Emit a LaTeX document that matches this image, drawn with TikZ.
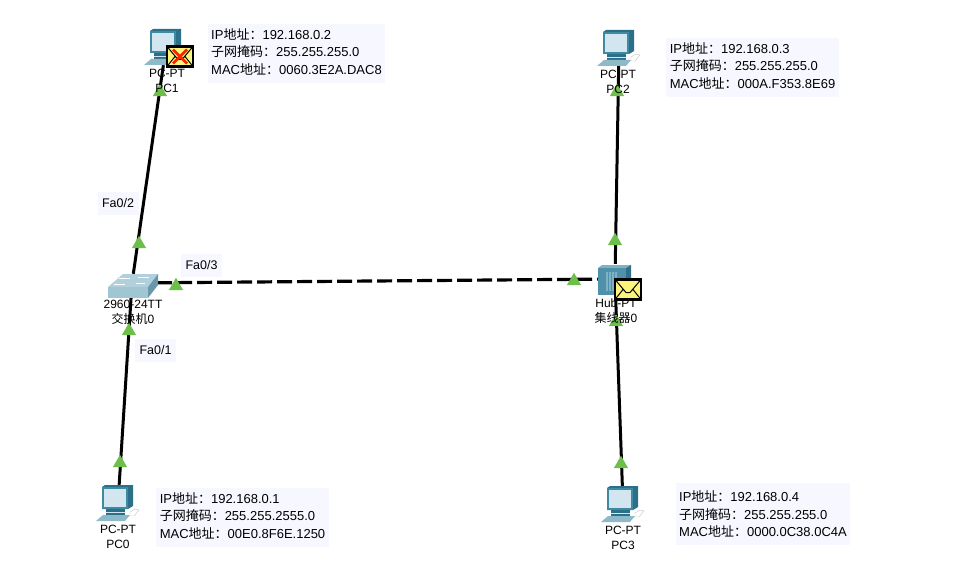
\documentclass[tikz,border=0pt]{standalone}
\usepackage{fontspec}
\setmainfont{Liberation Sans}
\newfontfamily\cjk{Noto Sans CJK SC}
\usepackage{tikz}
\usetikzlibrary{shapes.geometric}

\definecolor{pcteal}{HTML}{3F8AA3}
\definecolor{pcdark}{HTML}{2B7088}
\definecolor{pcscreen}{HTML}{D3E5EE}
\definecolor{pcbase}{HTML}{8DB9C9}
\definecolor{swtop}{HTML}{B2D0DB}
\definecolor{swfront}{HTML}{A0C6D3}
\definecolor{swside}{HTML}{6898AA}
\definecolor{hubfront}{HTML}{4F90AA}
\definecolor{hubside}{HTML}{2F7189}
\definecolor{hubtop}{HTML}{7FB2C5}
\definecolor{mailyellow}{HTML}{FDF47C}
\definecolor{linkgreen}{HTML}{6DBE4B}
\definecolor{boxblue}{HTML}{F7F8FF}

\newcommand{\infolines}[3]{IP{\cjk 地址：}#1\\{\cjk 子网掩码：}#2\\MAC{\cjk 地址：}#3}
\newcommand{\infolift}{\rule[-4pt]{0pt}{4pt}}

\tikzset{
	linkup/.style={regular polygon,regular polygon sides=3,fill=linkgreen,inner sep=0pt,minimum size=16.5pt},
	infobox/.style={fill=boxblue,align=left,inner sep=0pt,minimum width=#1,minimum height=59pt,font=\fontsize{13}{17.5}\selectfont},
	portlabel/.style={fill=boxblue,inner sep=0pt,minimum width=41pt,minimum height=23pt,font=\fontsize{12.5}{15}\selectfont},
	devlabel/.style={align=center,inner sep=0pt,font=\fontsize{12}{15}\selectfont},
	pics/pcicon/.style={code={
		\fill[pcdark] (-16,-16) -- (-13,-18) -- (15,-18) -- (15,3) -- (10,6) -- (-16,6) -- cycle;
		\fill[pcteal] (-16,-16) rectangle (10,6);
		\fill[pcscreen] (-14,-14) rectangle (8,4);
		\fill[pcdark] (-12,6) rectangle (7,9);
		\fill[pcscreen] (-12,9) rectangle (7,10);
		\fill[pcdark] (-12,10) rectangle (7,12);
		\fill[pcbase] (-15,12) -- (12,12) -- (7,18) -- (-22,18) -- cycle;
		\draw[gray!45,fill=white] (12,9) -- (17,6) -- (21,7) -- (16,13) -- (12,13) -- cycle;
	}},
	pics/swicon/.style={code={
		\fill[swtop] (-24,4) -- (-9,-9) -- (26,-9) -- (16,4) -- cycle;
		\fill[swfront] (-24,4) rectangle (16,15);
		\fill[swside] (16,4) -- (26,-9) -- (26,2) -- (16,15) -- cycle;
		\draw[white,thick] (-13,-5) -- (-2,-5) (6,-6) -- (17,-6) (-18,1) -- (-7,1) (4,0) -- (13,0);
	}},
	pics/hubicon/.style={code={
		\fill[hubtop] (-17,-11) -- (-13,-14) -- (16,-14) -- (11,-11) -- cycle;
		\fill[hubfront] (-17,-11) rectangle (11,16);
		\fill[hubside] (11,-11) -- (16,-14) -- (16,12) -- (11,16) -- cycle;
		\foreach \i in {-9,-6,-3,0} \fill[hubtop] (\i,-7) rectangle +(1.5,19);
	}},
	pics/mailicon/.style={code={
		\draw[black,line width=2.2pt,fill=mailyellow] (-13,-10) rectangle (13,10);
		\draw[black,line width=1pt] (-13,-10) -- (-2,3) -- (2,3) -- (13,-10) (-13,10) -- (-5,0) (13,10) -- (5,0);
	}},
	pics/failmark/.style={code={
		\draw[red!75!orange,line width=2.8pt] (-7,-7) -- (7,7) (-7,7) -- (7,-7);
	}}
}

\begin{document}
\begin{tikzpicture}[x=1pt,y=-1pt]
	\useasboundingbox (0,0) rectangle (976,583);

	\begin{scope}[every node/.style={inner sep=0pt,minimum width=30pt,minimum height=36pt}]
	\node (pc0) at (118,503) {};
	\node (pc1) at (166,47) {};
	\node (pc2) at (619,48) {};
	\node (pc3) at (623,504) {};
	\node[minimum width=50pt,minimum height=18pt] (sw0) at (132,283) {};
	\node[minimum height=30pt] (hub0) at (615,279) {};
	\end{scope}

	\draw [line width=3pt] (pc1) edge (sw0);
	\draw [line width=3pt] (pc0) edge (sw0);
	\draw [line width=3pt] (pc2) edge (hub0);
	\draw [line width=3pt] (pc3) edge (hub0);
	\draw [line width=3.2pt,dash pattern=on 15pt off 5pt] (sw0) -- (hub0);

	\pic at (pc0) {pcicon};
	\pic at (pc1) {pcicon};
	\pic at (pc2) {pcicon};
	\pic at (pc3) {pcicon};
	\pic at (sw0) {swicon};
	\pic at (hub0) {hubicon};

	\node[linkup] (t1) at (160,92) {};
	\node[linkup] (t2) at (617,92) {};
	\node[linkup] (t3) at (139,244) {};
	\node[linkup] (t4) at (615,241) {};
	\node[linkup] (t5) at (176,286) {};
	\node[linkup] (t6) at (574,281) {};
	\node[linkup] (t7) at (129,331) {};
	\node[linkup] (t8) at (616,322) {};
	\node[linkup] (t9) at (120,463) {};
	\node[linkup] (t10) at (621,464) {};

	\node[devlabel] (pc0name) at (118,536.5) {PC-PT\\PC0};
	\node[devlabel] (pc1name) at (167,80.5) {PC-PT\\PC1};
	\node[devlabel] (pc2name) at (618,81.5) {PC-PT\\PC2};
	\node[devlabel] (pc3name) at (623,537.5) {PC-PT\\PC3};
	\node[devlabel] (sw0name) at (133,312.5) {2960-24TT\\{\cjk 交换机}0};
	\node[devlabel] (hub0name) at (616,311.5) {Hub-PT\\{\cjk 集线器}0};

	\node[portlabel] (fa2) at (118,203.5) {Fa0/2};
	\node[portlabel] (fa3) at (201.5,265.5) {Fa0/3};
	\node[portlabel] (fa1) at (155.5,350.5) {Fa0/1};

	\node[infobox=173pt] (ip0) at (242.5,517.5) {\infolines{192.168.0.1}{255.255.2555.0}{00E0.8F6E.1250}\infolift};
	\node[infobox=177pt] (ip1) at (296.5,53.5) {\infolines{192.168.0.2}{255.255.255.0}{0060.3E2A.DAC8}\infolift};
	\node[infobox=173pt] (ip2) at (752.5,67.5) {\infolines{192.168.0.3}{255.255.255.0}{000A.F353.8E69}\infolift};
	\node[infobox=174pt,minimum height=62pt] (ip3) at (763,514) {\infolines{192.168.0.4}{255.255.255.0}{0000.0C38.0C4A}};

	\pic at (180,56.5) {mailicon};
	\pic at (180,56.5) {failmark};
	\pic at (628,289.5) {mailicon};
\end{tikzpicture}
\end{document}
